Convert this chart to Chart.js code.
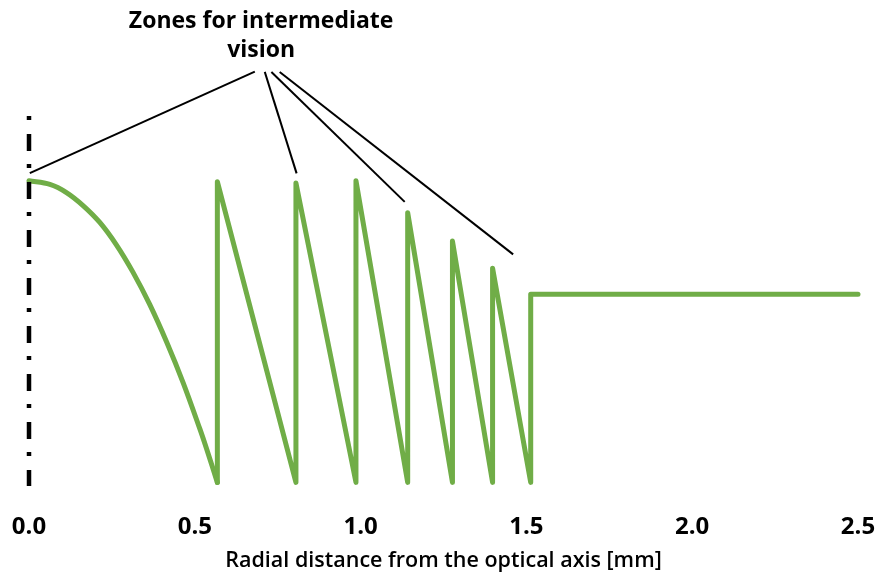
<!DOCTYPE html>
<html>
<head>
<meta charset="utf-8">
<script src="https://cdn.jsdelivr.net/npm/chart.js@4/dist/chart.umd.min.js"></script>
<style>
  html, body { margin: 0; padding: 0; background: #fff; }
  #wrap { width: 885px; height: 578px; }
</style>
</head>
<body>
<div id="wrap"><canvas id="canvas"></canvas></div>
<script>
  // central zone
  var centerX = [0, 0.063, 0.113, 0.163, 0.2135, 0.264, 0.313, 0.364, 0.416, 0.465, 0.515, 0.535, 0.568];
  var centerY = [1.0, 0.988, 0.961, 0.918, 0.862, 0.787, 0.698, 0.59, 0.463, 0.33, 0.178, 0.113, 0];

  // zone edges and peak heights of the sawtooth
  var edgeX = [0.568, 0.805, 0.986, 1.142, 1.277, 1.398, 1.513];
  var peakY = [0.997, 0.993, 1.0, 0.894, 0.80, 0.71];
  var flatY = 0.624;
  var endX = 2.5;

  // annotation pointers: from label to zone
  var pointerFrom = [[0.681, 1.362], [0.711, 1.361], [0.731, 1.361], [0.756, 1.361]];
  var pointerTo = [[0.0024, 1.0255], [0.807, 1.0246], [1.133, 0.930], [1.460, 0.756]];

  var xTicks = [0, 0.5, 1.0, 1.5, 2.0, 2.5];
  var labelLines = ['Zones for intermediate', 'vision'];
  var labelPos = [0.70, 1.36];
  var axisTop = 1.215;

  var green = '#70AD47';

  function buildCenter()
  {
    var pts = [];
    for (var i = 0; i < centerX.length; i++)
    {
      pts.push({x: centerX[i], y: centerY[i]});
    }
    return pts;
  }

  function buildSaw()
  {
    var pts = [];
    //each zone: jump up at the edge, then fall to the next edge
    for (var i = 0; i < peakY.length; i++)
    {
      pts.push({x: edgeX[i], y: 0});
      pts.push({x: edgeX[i], y: peakY[i]});
      pts.push({x: edgeX[i + 1], y: 0});
    }
    pts.push({x: edgeX[edgeX.length - 1], y: flatY});
    pts.push({x: endX, y: flatY});
    return pts;
  }

  var datasets = [
    {
      data: [{x: 0, y: axisTop}, {x: 0, y: -0.012}],
      borderColor: '#000',
      borderWidth: 4.5,
      borderDash: [4, 14, 17, 13],
      borderCapStyle: 'butt',
      pointRadius: 0,
      clip: false
    },
    {
      data: buildCenter(),
      borderColor: green,
      borderWidth: 5,
      tension: 0.35,
      borderCapStyle: 'round',
      pointRadius: 0,
      clip: false
    },
    {
      data: buildSaw(),
      borderColor: green,
      borderWidth: 5,
      tension: 0,
      borderJoinStyle: 'round',
      borderCapStyle: 'round',
      pointRadius: 0,
      clip: false
    }
  ];

  for (var k = 0; k < pointerFrom.length; k++)
  {
    datasets.push({
      data: [{x: pointerFrom[k][0], y: pointerFrom[k][1]}, {x: pointerTo[k][0], y: pointerTo[k][1]}],
      borderColor: '#000',
      borderWidth: 2,
      pointRadius: 0,
      clip: false
    });
  }

  //draw the two-line label above the zones
  var labelPlugin = {
    id: 'zoneLabel',
    afterDraw: function(chart)
    {
      var ctx = chart.ctx;
      var cx = chart.scales.x.getPixelForValue(labelPos[0]);
      ctx.save();
      ctx.fillStyle = '#000';
      ctx.font = 'bold 23px "Open Sans"';
      ctx.textAlign = 'center';
      ctx.textBaseline = 'alphabetic';
      ctx.fillText(labelLines[0], cx, 28);
      ctx.fillText(labelLines[1], cx, 57);
      ctx.restore();
    }
  };

  var ctx = document.getElementById('canvas').getContext('2d');
  window.myChart = new Chart(ctx, {
    type: 'line',
    data: { datasets: datasets },
    plugins: [labelPlugin],
    options: {
      responsive: true,
      maintainAspectRatio: false,
      animation: false,
      layout: { padding: { top: 30, left: 29, right: 27, bottom: 0 } },
      plugins: {
        legend: { display: false },
        tooltip: { enabled: false }
      },
      scales: {
        x: {
          type: 'linear',
          min: 0,
          max: 2.5,
          grid: { display: false, drawTicks: false },
          border: { display: false },
          afterBuildTicks: function(scale)
          {
            scale.ticks = xTicks.map(function(v) { return {value: v}; });
          },
          ticks: {
            color: '#000',
            padding: 27,
            font: { family: 'Open Sans', weight: 'bold', size: 24 },
            callback: function(v) { return Number(v).toFixed(1); }
          },
          title: {
            display: true,
            text: 'Radial distance from the optical axis [mm]',
            color: '#000',
            padding: { top: 0, bottom: 4 },
            font: { family: 'Open Sans', weight: '600', size: 21.5 }
          },
          afterFit: function(scale)
          {
            scale.height = 92;
            scale.paddingLeft = 0;
            scale.paddingRight = 0;
          }
        },
        y: {
          display: false,
          min: -0.012,
          max: 1.5
        }
      }
    }
  });
</script>
</body>
</html>
